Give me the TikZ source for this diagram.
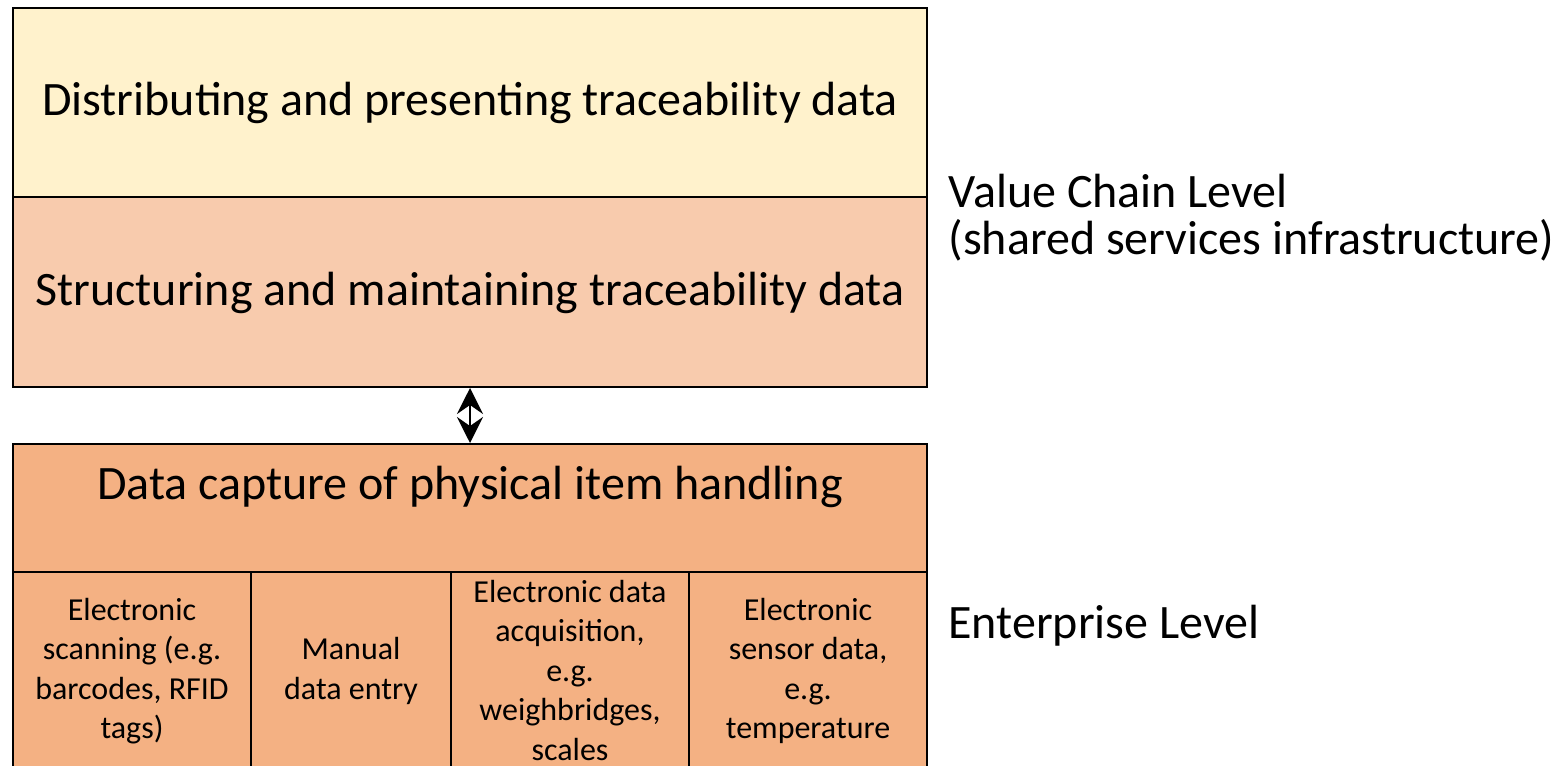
\documentclass[tikz,border=0pt]{standalone}
\usepackage{fontspec}
\setmainfont{Carlito}
\usetikzlibrary{arrows.meta}
\definecolor{cyellow}{RGB}{255,242,204}
\definecolor{cpeach}{RGB}{248,203,173}
\definecolor{corange}{RGB}{244,177,131}
\begin{document}
\begin{tikzpicture}[x=1pt,y=-1pt,
  box/.style={draw=black,line width=2.5pt},
  big/.style={font=\fontsize{48}{47}\selectfont},
  small/.style={font=\fontsize{32}{39.5}\selectfont,align=center},
  ]
\useasboundingbox (0,0) rectangle (1562,765);
\begin{scope}
\clip (0,0) rectangle (1562,765);
\fill[cyellow] (13,8) rectangle (927,197);
\fill[cpeach] (13,197) rectangle (927,387);
\fill[corange] (13,444) rectangle (927,780);
\draw[box] (13,8) rectangle (927,387);
\draw[box] (13,197) -- (927,197);
\draw[box] (13,444) rectangle (927,780);
\draw[box] (13,572) -- (927,572);
\draw[box] (251,572) -- (251,780);
\draw[box] (451,572) -- (451,780);
\draw[box] (689,572) -- (689,780);
\end{scope}
\node[big] (dist) at (470,103) {Distributing and presenting traceability data};
\node[big] (struct) at (470,293) {Structuring and maintaining traceability data};
\node[big] (cap) at (470,487) {Data capture of physical item handling};
\coordinate (topb) at (470,388);
\coordinate (botb) at (470,443);
\draw[line width=2.5pt,{Stealth[length=26pt,width=26pt,inset=9pt]}-{Stealth[length=26pt,width=26pt,inset=9pt]}] (topb) -- (botb);
\node[small] (c1) at (132,671) {Electronic\\scanning (e.g.\\barcodes, RFID\\tags)};
\node[small] (c2) at (351,671) {Manual\\data entry};
\node[small] (c3) at (570,670) {Electronic data\\acquisition,\\e.g.\\weighbridges,\\scales};
\node[small] (c4) at (808,671) {Electronic\\sensor data,\\e.g.\\temperature};
\node[big,anchor=west,align=left] (vcl) at (945,218) {Value Chain Level\\(shared services infrastructure)};
\node[big,anchor=west] (ent) at (945,626) {Enterprise Level};
\end{tikzpicture}
\end{document}
